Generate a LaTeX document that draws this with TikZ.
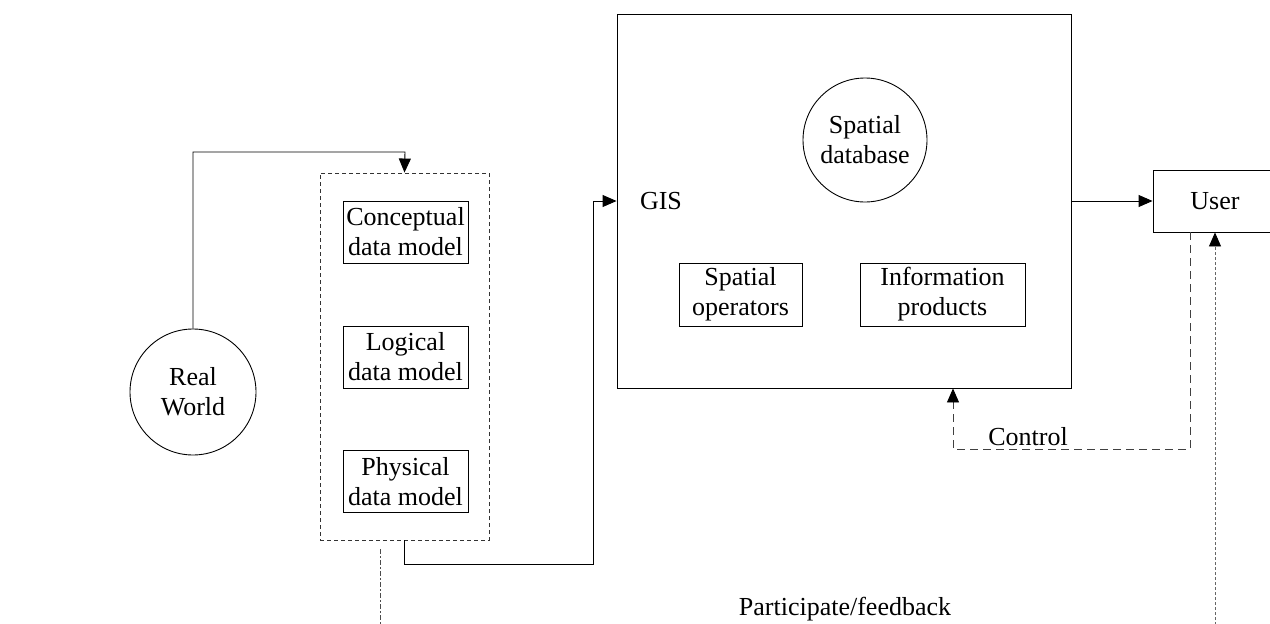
\documentclass[tikz,border=0pt]{standalone}
\usepackage{fontspec}
\setmainfont{Liberation Serif}
\usetikzlibrary{arrows.meta}
\begin{document}
\begin{tikzpicture}[x=1pt,y=-1pt,
  font=\fontsize{26}{30}\selectfont,
  line width=0.9pt,
  tip/.style={-{Triangle[length=14pt,width=12pt,color=black]}},
  box/.style={draw, rectangle, inner sep=0pt, align=center},
  ring/.style={draw, circle, inner sep=0pt, align=center},
  label/.style={inner sep=0pt, align=center},
  shortdash/.style={dash pattern=on 4pt off 3pt, draw=black!80},
  longdash/.style={dash pattern=on 8pt off 5pt, draw=black!75},
  dashdot/.style={dash pattern=on 5pt off 2pt on 2pt off 2pt, draw=black!70},
  dotline/.style={dash pattern=on 3pt off 2pt, draw=black!60}]

\useasboundingbox (0,0) rectangle (1270,624);
\clip (0,0) rectangle (1270,624);

% real world
\node[ring, minimum size=126pt] (rw) at (193,392) {Real\\World};

% data model stack
\node[box, shortdash, minimum width=169pt, minimum height=367pt] (stack) at (404.5,356.5) {};
\node[box, minimum width=125pt, minimum height=62pt] (concept) at (405.5,232) {Conceptual\\data model};
\node[box, minimum width=125pt, minimum height=62pt] (logical) at (405.5,357) {Logical\\data model};
\node[box, minimum width=125pt, minimum height=62pt] (physical) at (405.5,481.5) {Physical\\data model};

% GIS
\node[box, minimum width=454pt, minimum height=374pt] (gis) at (844,201) {};
\node[label] (gislbl) at (661,201) {GIS};
\node[ring, minimum size=124pt] (sdb) at (865,140) {Spatial\\database};
\node[box, minimum width=123pt, minimum height=63pt] (sop) at (740.5,294.5) {Spatial\\operators};
\node[box, minimum width=165pt, minimum height=63pt] (info) at (942.5,294.5) {Information\\products};

% user
\node[box, minimum width=124pt, minimum height=62pt] (user) at (1215,201) {User};

% labels
\node[label] (ctl) at (1028,437) {Control};
\node[label] (pf) at (845,609) {Participate/feedback};

% routing points
\coordinate (k1) at (405,152);
\coordinate (k2) at (593,564);
\coordinate (c1) at (1190,449);
\coordinate (c2) at (953,449);
\coordinate (f1) at (1215,630);
\coordinate (f2) at (380,549);
\coordinate (f3) at (380,630);

% connectors
\draw[tip] (rw.north) |- (k1) -- (stack.north);
\draw[tip] (stack.south) |- (k2) |- (gis.west);
\draw[tip] (gis.east) -- (user.west);
\draw[tip, longdash] (user.south -| c1) -- (c1) -- (c2) -- (gis.south -| c2);
\draw[tip, dotline] (f1) -- (user.south);
\draw[dashdot] (f2) -- (f3);
\end{tikzpicture}
\end{document}
